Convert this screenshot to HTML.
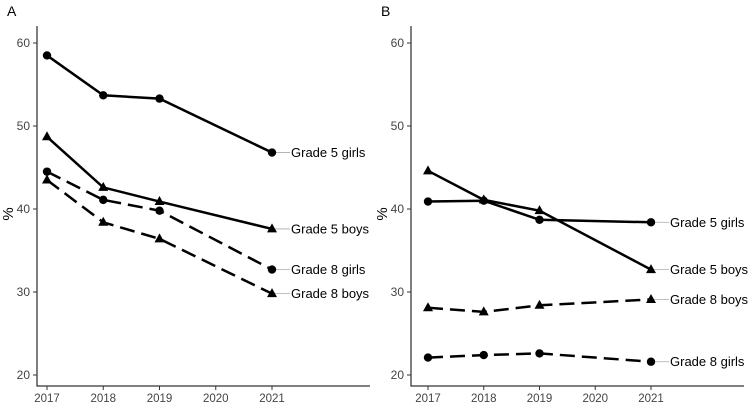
<!DOCTYPE html>
<html><head><meta charset="utf-8"><style>
body{margin:0;background:#fff;}
svg text{font-family:"Liberation Sans",sans-serif;}
</style></head><body>
<svg id="chart" width="750" height="407" xmlns="http://www.w3.org/2000/svg"></svg>
<script>
const years=[2017,2018,2019,2020,2021];
const yTicks=[20,30,40,50,60];
const seriesNames=["Grade 5 girls","Grade 5 boys","Grade 8 girls","Grade 8 boys"];
const seriesYears=[2017,2018,2019,2021];
const aGirls5=[58.5,53.7,53.3,46.8];
const aBoys5=[48.7,42.6,40.9,37.6];
const aGirls8=[44.5,41.1,39.8,32.7];
const aBoys8=[43.5,38.4,36.4,29.8];
const bGirls5=[40.9,41.0,38.7,38.4];
const bBoys5=[44.6,41.1,39.8,32.7];
const bGirls8=[22.1,22.4,22.6,21.6];
const bBoys8=[28.1,27.6,28.4,29.1];
const panels=[
 {id:"A",axisX:37,x0:47,x1:272,data:[aGirls5,aBoys5,aGirls8,aBoys8]},
 {id:"B",axisX:411,x0:428,x1:651,data:[bGirls5,bBoys5,bGirls8,bBoys8]}
];
const shapes=["circle","tri","circle","tri"];
const dashed=[false,false,true,true];
const svg=document.getElementById('chart');
const NS="http://www.w3.org/2000/svg";
function mk(tag,attrs,parent){const e=document.createElementNS(NS,tag);for(const k in attrs)e.setAttribute(k,attrs[k]);(parent||svg).appendChild(e);return e;}
function yS(v){return 43+(60-v)*8.3;}
panels.forEach(p=>{
 const g=mk('g',{});
 
 
 const xS=yr=>p.x0+(yr-2017)*(p.x1-p.x0)/4;
 const t=mk('text',{x:p.axisX-30,y:16,'font-size':14},g);t.textContent=p.id;
 
 const ax=mk('path',{d:`M${p.axisX} 26V386H${p.axisX+333}`,stroke:'#000',fill:'none','stroke-width':1},g);
 
 yTicks.forEach(v=>{
  mk('line',{x1:p.axisX-4,x2:p.axisX,y1:yS(v),y2:yS(v),stroke:'#333'},g);
  const tt=mk('text',{x:p.axisX-7,y:yS(v)+4,'font-size':12,'text-anchor':'end',fill:'#444'},g);tt.textContent=v;
  
 });
 years.forEach(yr=>{
  mk('line',{x1:xS(yr),x2:xS(yr),y1:386,y2:390,stroke:'#333'},g);
  const tt=mk('text',{x:xS(yr),y:402,'font-size':11.5,'text-anchor':'middle',fill:'#444'},g);tt.textContent=yr;
  
 });
 const yl=mk('text',{x:0,y:0,'font-size':15,'text-anchor':'middle',transform:`translate(${p.axisX-24},214) rotate(-90)`},g);yl.textContent='%';
 
 p.data.forEach((vals,i)=>{
  const pts=vals.map((v,j)=>[xS(seriesYears[j]),yS(v)]);
  const last=pts[pts.length-1];
  mk('line',{x1:last[0],y1:last[1],x2:last[0]+18,y2:last[1],stroke:'#aaa','stroke-width':0.8},g);
  const ln=mk('polyline',{points:pts.map(q=>q.join(',')).join(' '),fill:'none',stroke:'#000','stroke-width':2.5,'stroke-dasharray':dashed[i]?'15,7':'none'},g);
  
  
  pts.forEach(q=>{
   let m;
   if(shapes[i]=='circle') m=mk('circle',{cx:q[0],cy:q[1],r:4.2,fill:'#000'},g);
   else m=mk('polygon',{points:`${q[0]},${q[1]-5.5} ${q[0]-5},${q[1]+3.5} ${q[0]+5},${q[1]+3.5}`,fill:'#000'},g);
   
  });
  const lb=mk('text',{x:last[0]+19,y:last[1]+4.5,'font-size':13},g);lb.textContent=seriesNames[i];
  
 });
});
</script>
</body></html>
